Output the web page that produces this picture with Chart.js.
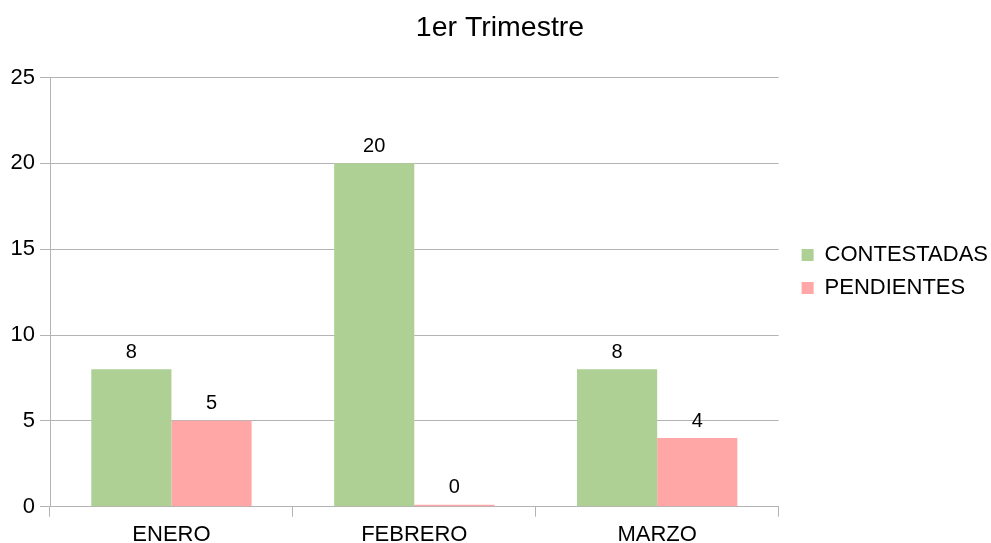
<!DOCTYPE html>
<html>
<head>
<meta charset="utf-8">
<script src="https://cdn.jsdelivr.net/npm/chart.js@4/dist/chart.umd.min.js"></script>
<style>
  html, body { margin: 0; padding: 0; background: #fff; }
  #wrap { width: 991px; height: 543px; }
</style>
</head>
<body>
<div id="wrap"><canvas id="chart"></canvas></div>
<script>
// Datos
const meses = ['ENERO', 'FEBRERO', 'MARZO'];
const contestadas = [8, 20, 8];
const pendientes = [5, 0, 4];
const yTicks = [0, 5, 10, 15, 20, 25];

const gris = '#b3b3b3';
const fuente = '"Liberation Sans", Arial, sans-serif';

// Etiquetas de valor encima de cada barra
const valoresPlugin = {
    id: 'valores',
    afterDatasetsDraw(chart) {
        const ctx = chart.ctx;
        ctx.save();
        ctx.font = '20px ' + fuente;
        ctx.fillStyle = '#000';
        ctx.textAlign = 'center';
        ctx.textBaseline = 'bottom';
        chart.data.datasets.forEach((ds, i) => {
            chart.getDatasetMeta(i).data.forEach((bar, j) => {
                ctx.fillText(ds.data[j], bar.x, bar.y - 7);
            });
        });
        ctx.restore();
    }
};

// Ajustar posición de la leyenda y del título
const posicionPlugin = {
    id: 'posicion',
    afterLayout(chart) {
        const l = chart.legend;
        const w = l.width;
        l.left = chart.chartArea.right + 12;
        l.right = l.left + w;
        const t = chart.titleBlock;
        t.left += 7;
        t.right += 7;
    }
};

new Chart(document.getElementById('chart'), {
    type: 'bar',
    data: {
        labels: meses,
        datasets: [
            {
                label: 'CONTESTADAS',
                data: contestadas,
                backgroundColor: '#afd095',
                barPercentage: 1,
                categoryPercentage: 0.66
            },
            {
                label: 'PENDIENTES',
                data: pendientes,
                backgroundColor: '#ffa6a6',
                barPercentage: 1,
                categoryPercentage: 0.66,
                minBarLength: 2
            }
        ]
    },
    options: {
        responsive: true,
        maintainAspectRatio: false,
        animation: false,
        layout: { padding: { left: 0, right: 5, top: 0, bottom: 0 } },
        plugins: {
            title: {
                display: true,
                text: '1er Trimestre',
                color: '#000',
                font: { family: fuente, size: 28.5, weight: 'normal' },
                padding: { top: 11.5, bottom: 31.8 }
            },
            legend: {
                position: 'right',
                labels: {
                    color: '#000',
                    font: { family: fuente, size: 22 },
                    boxWidth: 12,
                    boxHeight: 12,
                    padding: 11
                }
            },
            tooltip: { enabled: false }
        },
        scales: {
            x: {
                afterFit: axis => { axis.height = 36.3; },
                grid: {
                    offset: true,
                    color: ctx => ctx.index === meses.length ? gris : 'transparent',
                    tickColor: gris,
                    tickLength: 10,
                    lineWidth: 1
                },
                border: { color: gris },
                ticks: {
                    color: '#000',
                    font: { family: fuente, size: 22 },
                    padding: 5
                }
            },
            y: {
                min: 0,
                max: 25,
                afterFit: axis => { axis.width = 50; },
                afterBuildTicks: axis => { axis.ticks = yTicks.map(v => ({ value: v })); },
                grid: { color: gris, tickColor: gris, tickLength: 10 },
                border: { color: gris },
                ticks: {
                    color: '#000',
                    font: { family: fuente, size: 22 },
                    padding: 5
                }
            }
        }
    },
    plugins: [valoresPlugin, posicionPlugin]
});
</script>
</body>
</html>
